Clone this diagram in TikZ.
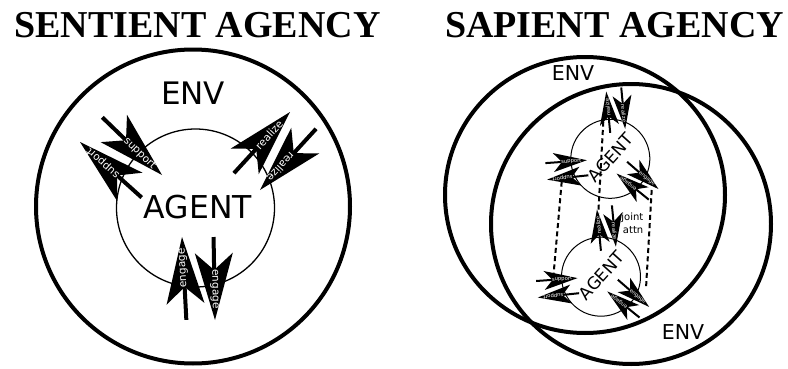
\documentclass[tikz,border=0pt]{standalone}
\usepackage{fontspec}
\setmainfont{Liberation Serif}
\newfontfamily\dejavu{DejaVu Sans}
\tikzset{
  envcirc/.style={line width=4pt},
  dartlabel/.style={text=white, font=\dejavu\fontsize{10.5}{10.5}\selectfont, inner sep=0pt, transform shape},
  agentlabel/.style={font=\dejavu\fontsize{\agentfs}{\agentfs}\selectfont, inner sep=0pt, transform shape},
  envlabel/.style={font=\dejavu\fontsize{#1}{#1}\selectfont, inner sep=0pt},
  titlelabel/.style={font=\bfseries\fontsize{38}{38}\selectfont, inner sep=0pt, anchor=base},
  jointline/.style={line width=2pt, dash pattern=on 5pt off 3.3pt},
}
\newcommand{\dartlw}{4pt}
\newcommand{\agentfs}{31.5}
% #1 name, #2 tip, #3 angle, #4 label
\newcommand{\dartarrow}[4]{%
  \begin{scope}[shift={#2}, rotate=#3]
    \draw[line width=\dartlw] (-83,0) -- (-30,0);
    \fill (0,0) -- (-67,19) -- (-50,0) -- (-67,-19) -- cycle;
    \node[dartlabel] (#1) at (-31,0) {#4};
  \end{scope}}
% #1 prefix, #2 circle line width
\newcommand{\agentgroup}[2]{%
  \draw[line width=#2] (0,0) circle[radius=79];
  \node[agentlabel] (#1agent) at (2.5,1) {AGENT};
  \dartarrow{#1s1}{(-33.5,33)}{-44}{support}
  \dartarrow{#1s2}{(-115.5,66)}{138}{support}
  \dartarrow{#1r1}{(94.5,96)}{47.5}{realize}
  \dartarrow{#1r2}{(64.5,18)}{227.5}{realize}
  \dartarrow{#1e1}{(-13.5,-29)}{93}{engage}
  \dartarrow{#1e2}{(19.5,-112)}{-89}{engage}
}
\begin{document}
\begin{tikzpicture}[x=1pt,y=1pt]
\useasboundingbox (0,0) rectangle (788,368);
% titles
\node[titlelabel] (t1) at (197.5,331) {SENTIENT AGENCY};
\node[titlelabel] (t2) at (614.5,331) {SAPIENT AGENCY};
% left diagram
\draw[envcirc] (193,161.5) circle[radius=157];
\node[envlabel=31] (env1) at (193,275) {ENV};
\begin{scope}[shift={(195.5,160)}]
  \agentgroup{L}{1.3pt}
\end{scope}
% right diagram
\draw[envcirc] (585,173) ellipse[x radius=140, y radius=138];
\draw[envcirc] (631,144) circle[radius=140];
\node[envlabel=20.5] (env2) at (573,295) {ENV};
\node[envlabel=20.5] (env3) at (683,36) {ENV};
\coordinate (dl1) at (561.7,186.3);
\coordinate (dl2) at (553.3,90.7);
\coordinate (dm1) at (603.3,246.3);
\coordinate (dm2) at (598.3,154.7);
\coordinate (dr1) at (651.7,178);
\coordinate (dr2) at (646,79.7);
\draw[jointline] (dl1) -- (dl2);
\draw[jointline] (dm1) -- (dm2);
\draw[jointline] (dr1) -- (dr2);
\begin{scope}[shift={(610.3,209.2)}, rotate=48, scale=0.5]
  \renewcommand{\dartlw}{2pt}
  \renewcommand{\agentfs}{34}
  \agentgroup{U}{1pt}
\end{scope}
\begin{scope}[shift={(601,91.3)}, rotate=48, scale=0.5]
  \renewcommand{\dartlw}{2pt}
  \renewcommand{\agentfs}{34}
  \agentgroup{D}{1pt}
\end{scope}
\node[font=\dejavu\fontsize{10}{13.3}\selectfont, align=right, anchor=east, inner sep=0pt] (joint) at (643.5,144.7) {joint\\attn};
\end{tikzpicture}
\end{document}
